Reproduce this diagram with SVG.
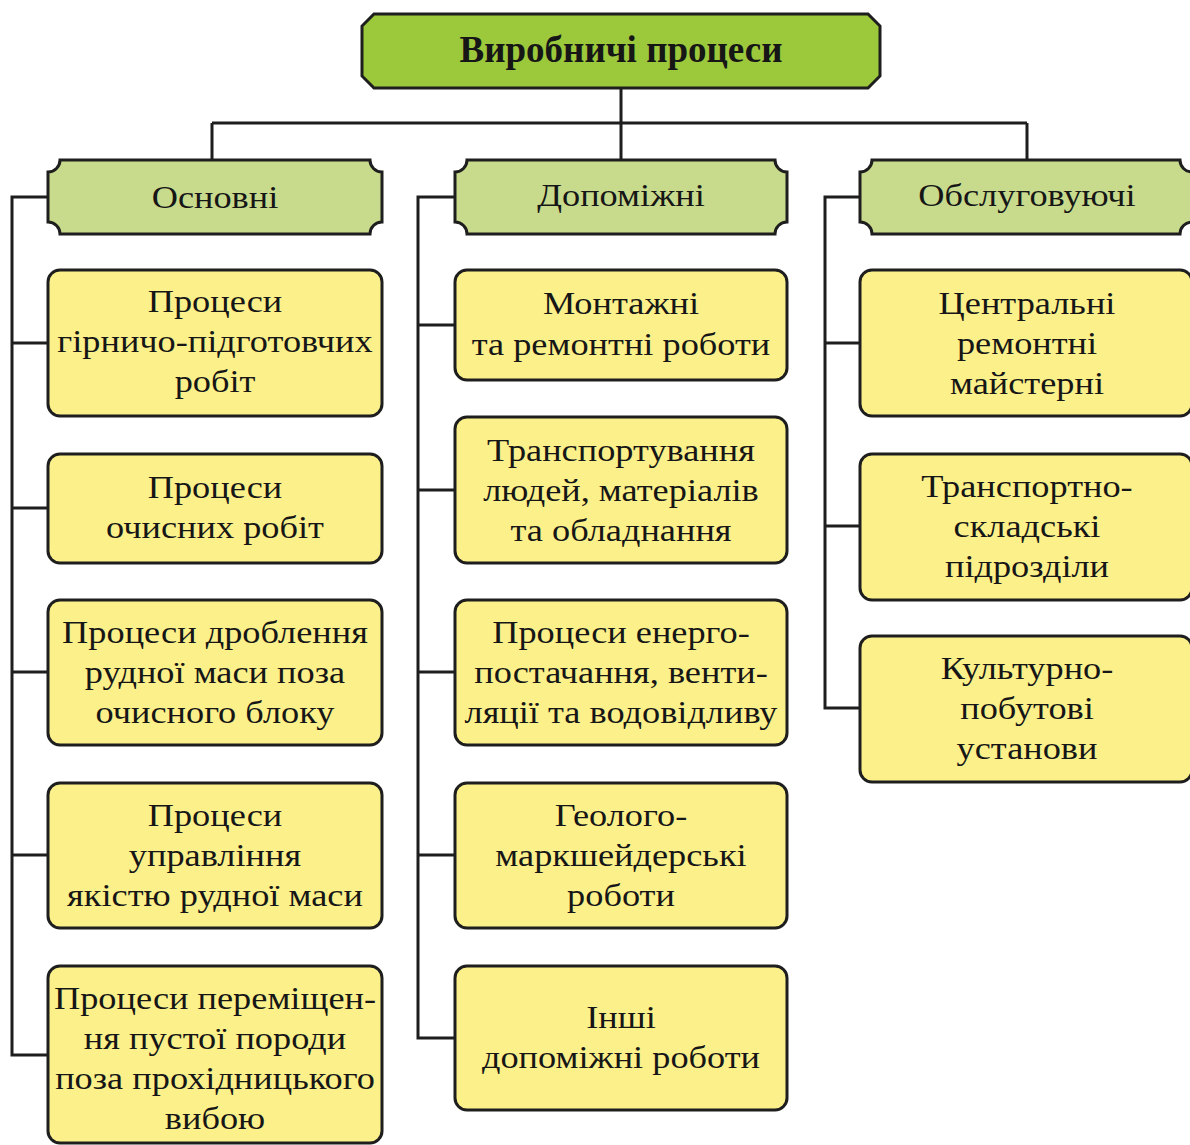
<svg xmlns="http://www.w3.org/2000/svg" width="1190" height="1145" viewBox="0 0 1190 1145">
<style>
.ln{stroke:#1e1e1e;stroke-width:3;fill:none}
.box{fill:#fbf08a;stroke:#1e1e1e;stroke-width:3}
.hdr{fill:#c8db8c;stroke:#1e1e1e;stroke-width:3}
.top{fill:#9cc83c;stroke:#1e1e1e;stroke-width:3}
text{font-family:"Liberation Serif","DejaVu Serif",serif;font-size:32px;fill:#161616;text-anchor:middle}
.b{font-weight:bold;font-size:37px}
</style>
<rect width="1190" height="1145" fill="#ffffff"/>
<g id="connectors">
<path class="ln" d="M621 88V160M212 123H1027M212 123V160M1027 123V160"/>
<path class="ln" d="M48 197H12V1055H48M12 343H48M12 508H48M12 672H48M12 855H48"/>
<path class="ln" d="M455 197H418V1038H455M418 325H455M418 490H455M418 672H455M418 855H455"/>
<path class="ln" d="M860 197H825V708H860M825 343H860M825 526H860"/>
</g>
<g id="root">
<path class="top" d="M374 14H868L880 26V76L868 88H374L362 76V26Z"/>
<text class="b" x="621" y="62">Виробничі процеси</text>
</g>
<g id="h-osnovni">
<path class="hdr" d="M60 160H370A12 12 0 0 0 382 172V222A12 12 0 0 0 370 234H60A12 12 0 0 0 48 222V172A12 12 0 0 0 60 160Z"/>
<g transform="translate(215 0) scale(1.135 1)"><text x="0" y="208">Основні</text></g>
</g>
<g id="h-dopomizhni">
<path class="hdr" d="M467 160H775A12 12 0 0 0 787 172V222A12 12 0 0 0 775 234H467A12 12 0 0 0 455 222V172A12 12 0 0 0 467 160Z"/>
<g transform="translate(621 0) scale(1.135 1)"><text x="0" y="206">Допоміжні</text></g>
</g>
<g id="h-obsluh">
<path class="hdr" d="M872 160H1180A12 12 0 0 0 1192 172V222A12 12 0 0 0 1180 234H872A12 12 0 0 0 860 222V172A12 12 0 0 0 872 160Z"/>
<g transform="translate(1027 0) scale(1.135 1)"><text x="0" y="206">Обслуговуючі</text></g>
</g>
<g id="c1-1"><rect class="box" x="48" y="270" width="334" height="146" rx="12"/>
<g transform="translate(215 0) scale(1.135 1)"><text x="0" y="312">Процеси</text><text x="0" y="352">гірничо-підготовчих</text><text x="0" y="392">робіт</text></g></g>
<g id="c1-2"><rect class="box" x="48" y="454" width="334" height="109" rx="12"/>
<g transform="translate(215 0) scale(1.135 1)"><text x="0" y="498">Процеси</text><text x="0" y="538">очисних робіт</text></g></g>
<g id="c1-3"><rect class="box" x="48" y="600" width="334" height="145" rx="12"/>
<g transform="translate(215 0) scale(1.135 1)"><text x="0" y="643">Процеси дроблення</text><text x="0" y="683">рудної маси поза</text><text x="0" y="723">очисного блоку</text></g></g>
<g id="c1-4"><rect class="box" x="48" y="783" width="334" height="145" rx="12"/>
<g transform="translate(215 0) scale(1.135 1)"><text x="0" y="826">Процеси</text><text x="0" y="866">управління</text><text x="0" y="906">якістю рудної маси</text></g></g>
<g id="c1-5"><rect class="box" x="48" y="966" width="334" height="177" rx="12"/>
<g transform="translate(215 0) scale(1.135 1)"><text x="0" y="1009">Процеси переміщен-</text><text x="0" y="1049">ня пустої породи</text><text x="0" y="1089">поза прохідницького</text><text x="0" y="1129">вибою</text></g></g>
<g id="c2-1"><rect class="box" x="455" y="270" width="332" height="110" rx="12"/>
<g transform="translate(621 0) scale(1.135 1)"><text x="0" y="314">Монтажні</text><text x="0" y="355">та ремонтні роботи</text></g></g>
<g id="c2-2"><rect class="box" x="455" y="417" width="332" height="146" rx="12"/>
<g transform="translate(621 0) scale(1.135 1)"><text x="0" y="461">Транспортування</text><text x="0" y="501">людей, матеріалів</text><text x="0" y="541">та обладнання</text></g></g>
<g id="c2-3"><rect class="box" x="455" y="600" width="332" height="145" rx="12"/>
<g transform="translate(621 0) scale(1.135 1)"><text x="0" y="643">Процеси енерго-</text><text x="0" y="683">постачання, венти-</text><text x="0" y="723">ляції та водовідливу</text></g></g>
<g id="c2-4"><rect class="box" x="455" y="783" width="332" height="145" rx="12"/>
<g transform="translate(621 0) scale(1.135 1)"><text x="0" y="826">Геолого-</text><text x="0" y="866">маркшейдерські</text><text x="0" y="906">роботи</text></g></g>
<g id="c2-5"><rect class="box" x="455" y="966" width="332" height="144" rx="12"/>
<g transform="translate(621 0) scale(1.135 1)"><text x="0" y="1028">Інші</text><text x="0" y="1068">допоміжні роботи</text></g></g>
<g id="c3-1"><rect class="box" x="860" y="270" width="332" height="146" rx="12"/>
<g transform="translate(1027 0) scale(1.135 1)"><text x="0" y="314">Центральні</text><text x="0" y="354">ремонтні</text><text x="0" y="394">майстерні</text></g></g>
<g id="c3-2"><rect class="box" x="860" y="454" width="332" height="146" rx="12"/>
<g transform="translate(1027 0) scale(1.135 1)"><text x="0" y="497">Транспортно-</text><text x="0" y="537">складські</text><text x="0" y="577">підрозділи</text></g></g>
<g id="c3-3"><rect class="box" x="860" y="636" width="332" height="146" rx="12"/>
<g transform="translate(1027 0) scale(1.135 1)"><text x="0" y="679">Культурно-</text><text x="0" y="719">побутові</text><text x="0" y="759">установи</text></g></g>
</svg>
